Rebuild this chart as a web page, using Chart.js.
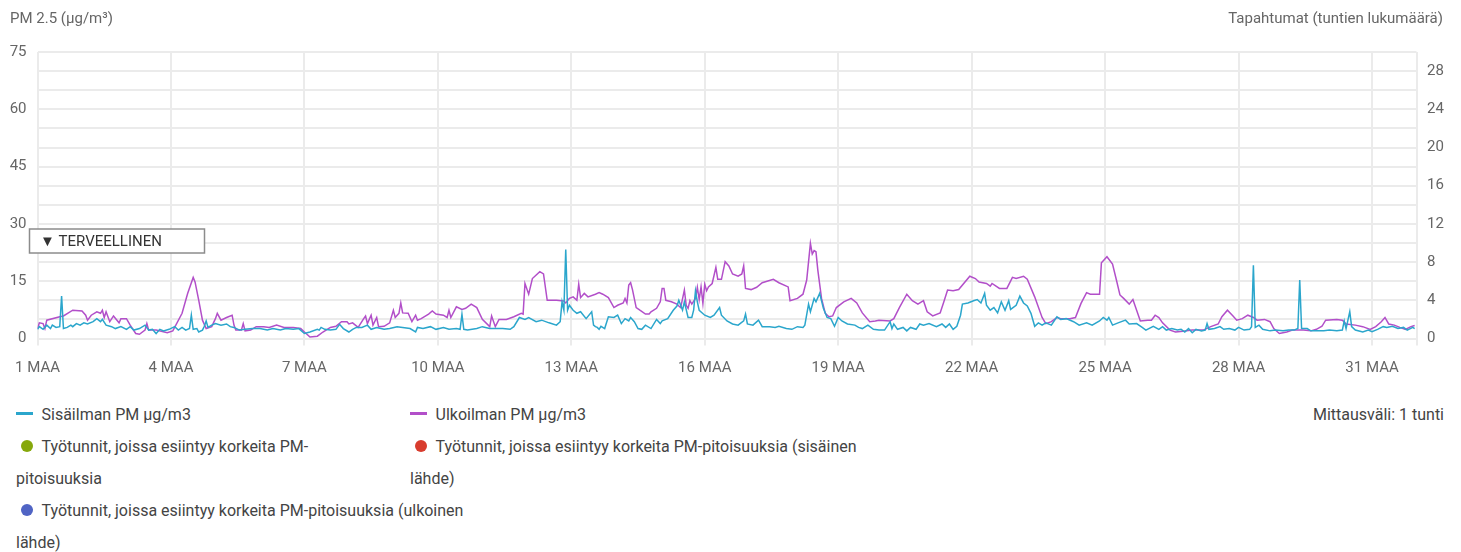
<!DOCTYPE html>
<html lang="fi">
<head>
<meta charset="utf-8">
<title>PM 2.5 – maaliskuu</title>
<script src="https://cdn.jsdelivr.net/npm/chart.js@4.4.0/dist/chart.umd.min.js"></script>
<style>
  html,body{margin:0;padding:0;background:#fff;}
  body{width:1461px;height:552px;position:relative;overflow:hidden;font-family:Roboto,"Noto Sans",sans-serif;}
  #chart{position:absolute;left:0;top:0;}
  .axis-title{position:absolute;top:8px;font-size:15px;line-height:20px;color:#666;}
  #title-left{left:10px;}
  #title-right{right:18px;}
  #legend{position:absolute;left:0;top:399px;width:1461px;font-size:16px;line-height:32px;color:#444;}
  .lg-item{position:absolute;}
  .i0{left:16px;top:0;}
  .i1{left:410px;top:0;}
  .i2{left:16px;top:32px;width:362px;}
  .i3{left:410px;top:32px;width:470px;}
  .i4{left:16px;top:96px;width:470px;}
  .mk{display:inline-block;width:17px;margin-right:8.5px;vertical-align:middle;position:relative;top:-2px;}
  .mk-line{height:3px;}
  .mk-dot{height:12.5px;}
  .mk-dot span{display:block;width:12.5px;height:12.5px;border-radius:50%;margin-left:4.5px;}
  #interval{position:absolute;right:17px;top:0;}
</style>
</head>
<body>
<canvas id="chart" width="1461" height="390"></canvas>
<div class="axis-title" id="title-left">PM 2.5 (µg/m³)</div>
<div class="axis-title" id="title-right">Tapahtumat (tuntien lukumäärä)</div>
<div id="legend"></div>

<script>
// hourly readings, [hour from 1 Mar 00:00, µg/m3]
const indoorPM = [
  [0,2.4],[1,3.1],[3,2.4],[5,3.5],[7,2.6],[8,3.5],[10,2.9],[12,3.1],[13,11.1],[14,2.6],[16,2.9],[18,3.5],
  [19,3.1],[21,3.9],[23,3.5],[25,4.1],[27,3.8],[30,4.4],[32,5.2],[34,4.4],[35,5.0],[37,3.5],[40,3.1],[42,2.6],
  [45,3.1],[48,2.4],[50,3.1],[52,2.2],[55,2.6],[58,3.5],[60,2.2],[62,2.4],[64,1.3],[66,2.4],[68,2.0],[71,2.4],
  [74,3.1],[76,2.2],[78,2.9],[80,2.2],[82,2.6],[83,6.1],[84,2.4],[86,2.6],[87,1.7],[89,2.2],[90,3.2],[91,4.6],
  [92,2.9],[94,3.5],[96,3.9],[99,3.5],[102,3.8],[104,3.1],[106,2.9],[109,2.2],[112,2.4],[116,2.6],[120,2.6],[124,2.2],
  [127,2.6],[131,2.2],[134,2.6],[138,2.4],[141,2.6],[144,1.3],[147,1.7],[151,2.4],[152,2.2],[153,2.9],[155,2.4],[158,2.2],
  [161,2.4],[163,3.7],[165,2.6],[168,1.7],[170,2.4],[172,2.9],[175,2.9],[178,3.5],[180,2.4],[183,2.9],[187,2.4],[190,2.6],
  [194,3.1],[197,2.9],[201,2.6],[204,1.7],[205,2.9],[208,2.6],[212,3.1],[215,2.4],[219,2.9],[222,2.4],[226,2.6],[228,2.4],
  [229,6.3],[230,2.4],[232,2.2],[237,2.6],[240,3.1],[244,2.6],[248,2.6],[251,2.6],[255,2.4],[257,3.1],[260,5.5],[263,5.0],
  [265,5.5],[269,4.4],[272,4.8],[276,4.1],[280,3.5],[282,4.4],[283,9.6],[284,7.4],[285,23.3],[286,7.4],[287,8.7],[289,7.4],
  [291,6.6],[293,7.0],[296,5.2],[299,7.0],[300,3.5],[301,3.1],[302,2.9],[303,2.4],[304,3.2],[306,2.6],[308,5.7],[311,5.5],
  [313,6.1],[315,3.9],[317,5.2],[319,4.6],[320,5.5],[322,4.4],[324,2.6],[326,2.4],[328,3.5],[331,2.6],[334,5.0],[336,3.9],
  [337,4.6],[340,5.2],[343,7.4],[345,8.5],[346,10.0],[348,7.4],[349,9.6],[351,5.5],[353,5.5],[354,7.4],[355,12.5],[356,9.6],
  [357,7.4],[360,6.1],[363,5.5],[365,6.1],[368,8.1],[369,6.1],[372,4.6],[375,3.8],[378,3.5],[381,4.6],[382,6.4],[383,3.8],
  [386,3.5],[389,4.8],[391,3.1],[395,3.1],[398,2.9],[400,3.2],[404,2.6],[407,2.4],[410,3.1],[413,2.9],[414,3.5],[416,9.0],
  [417,7.0],[419,10.5],[420,9.6],[422,11.8],[424,7.9],[426,5.5],[428,5.2],[430,3.2],[432,5.5],[434,4.6],[437,3.8],[441,3.5],
  [443,2.9],[445,2.6],[448,3.5],[451,2.4],[454,2.2],[457,2.2],[460,4.4],[461,2.6],[462,3.8],[464,2.4],[467,2.9],[469,2.0],
  [471,2.9],[474,2.4],[476,3.8],[478,3.5],[481,3.9],[485,3.1],[488,3.8],[490,2.9],[492,3.8],[494,2.4],[496,3.2],[498,6.1],
  [499,9.0],[502,9.3],[505,9.9],[507,10.2],[509,9.3],[511,11.8],[512,8.7],[514,7.4],[516,8.1],[518,6.7],[520,9.6],[522,7.4],
  [524,9.9],[525,7.6],[528,8.7],[530,11.1],[532,9.3],[534,8.5],[536,6.6],[538,3.2],[540,4.1],[542,3.5],[544,4.1],[547,3.5],
  [550,5.7],[552,5.0],[555,5.2],[559,4.4],[562,3.5],[566,4.1],[569,3.5],[573,4.6],[575,5.5],[577,4.8],[578,5.5],[580,3.5],
  [583,4.1],[587,4.8],[589,3.8],[593,3.9],[596,2.9],[598,2.2],[602,3.2],[605,2.4],[607,3.1],[609,2.2],[612,2.6],[615,2.2],
  [617,2.4],[619,1.7],[621,2.6],[623,1.5],[625,2.4],[628,2.0],[630,2.2],[631,3.9],[632,2.4],[635,2.6],[638,3.1],[640,2.4],
  [643,2.6],[646,2.2],[648,2.9],[651,2.2],[654,2.4],[655,3.1],[656,19.2],[657,2.9],[659,3.5],[661,2.4],[665,2.0],[668,2.2],
  [672,2.0],[675,2.2],[678,2.2],[680,2.6],[681,15.3],[682,2.6],[685,2.6],[687,2.0],[690,2.0],[694,2.0],[697,2.2],[701,2.0],
  [704,2.2],[705,4.6],[706,2.6],[707,4.8],[708,7.0],[709,3.1],[711,2.2],[715,1.7],[718,2.2],[720,1.8],[723,2.4],[726,3.1],
  [728,2.9],[731,3.2],[734,2.6],[737,2.9],[739,2.2],[742,2.9],[743,2.6]
];
const outdoorPM = [
  [0,2.6],[1,4.1],[3,3.9],[4,2.6],[5,4.8],[12,5.7],[14,5.9],[19,7.4],[24,7.2],[26,6.1],[27,4.8],[29,6.1],
  [32,7.0],[34,6.6],[35,7.4],[36,5.5],[37,7.0],[39,4.4],[41,5.9],[44,4.1],[45,5.2],[48,5.2],[50,3.5],[53,1.3],
  [55,1.1],[58,2.2],[59,3.9],[60,2.2],[64,2.2],[70,1.5],[73,2.0],[78,6.6],[81,11.8],[84,16.0],[85,14.8],[87,10.0],
  [89,4.8],[91,2.6],[94,3.1],[96,5.2],[97,6.6],[99,4.8],[102,5.5],[105,6.1],[106,3.5],[107,2.2],[110,2.2],[111,3.9],
  [112,2.0],[115,2.2],[118,3.1],[122,3.1],[125,2.9],[129,3.5],[133,2.9],[138,2.9],[142,2.6],[144,1.7],[147,0.4],[151,0.6],
  [154,1.7],[158,2.9],[161,3.2],[164,4.4],[167,4.4],[168,3.8],[170,4.1],[173,2.9],[176,5.2],[177,5.9],[178,3.9],[179,5.0],
  [180,6.1],[181,3.5],[183,5.5],[184,3.1],[187,3.2],[190,4.1],[192,7.4],[193,5.5],[195,6.6],[196,9.3],[197,6.7],[200,6.6],
  [202,4.4],[204,6.1],[205,4.8],[207,5.2],[211,6.4],[213,7.2],[215,6.4],[219,6.1],[221,5.5],[222,7.4],[223,5.5],[226,8.3],
  [229,7.6],[231,7.9],[234,9.0],[237,8.1],[240,5.0],[244,3.1],[245,5.9],[247,3.1],[249,5.0],[253,5.0],[257,5.7],[261,6.6],
  [262,6.4],[263,14.4],[265,11.6],[267,15.7],[271,17.5],[273,16.9],[275,10.0],[280,10.0],[284,9.8],[285,9.3],[287,10.5],[289,10.9],
  [291,10.0],[292,14.2],[293,10.7],[295,11.8],[297,10.9],[301,11.6],[303,12.0],[305,11.6],[308,10.7],[311,8.1],[313,8.7],[316,9.3],
  [317,10.5],[318,9.3],[319,14.0],[320,14.6],[321,12.8],[323,8.1],[325,7.4],[328,6.4],[330,6.4],[331,7.0],[334,7.9],[336,9.6],
  [337,13.1],[338,13.1],[339,10.0],[342,9.6],[345,9.0],[346,8.5],[347,8.1],[349,12.7],[350,8.7],[351,7.9],[352,9.9],[353,9.0],
  [355,10.5],[356,13.4],[357,10.2],[358,13.5],[359,9.2],[360,14.2],[361,12.5],[362,13.5],[364,14.4],[366,18.6],[367,15.5],[369,15.5],
  [371,20.1],[373,19.0],[375,16.9],[378,16.3],[380,16.9],[381,19.0],[382,13.1],[385,12.8],[388,13.4],[391,14.6],[397,15.5],[400,14.6],
  [405,13.5],[406,9.9],[410,10.5],[413,11.6],[415,15.3],[417,24.9],[418,22.1],[419,23.0],[420,22.7],[421,17.9],[423,10.5],[425,6.6],
  [427,5.7],[429,5.9],[431,8.1],[435,9.6],[439,10.5],[442,9.3],[445,6.7],[449,4.4],[452,4.6],[454,4.8],[460,4.6],[462,5.2],
  [465,8.1],[469,11.6],[472,9.9],[475,9.0],[478,9.9],[480,7.0],[483,5.9],[487,6.7],[489,9.6],[491,12.7],[494,12.5],[497,12.8],
  [503,16.3],[506,15.7],[508,14.8],[512,14.4],[514,13.7],[515,14.4],[519,13.1],[523,13.1],[526,16.0],[528,15.7],[532,16.3],[534,15.5],
  [538,10.9],[542,5.5],[544,3.9],[547,4.4],[550,5.5],[552,5.2],[557,5.2],[560,5.5],[563,9.2],[566,12.0],[568,11.6],[573,11.6],
  [574,19.8],[577,21.4],[580,19.5],[582,15.5],[584,11.4],[586,10.5],[589,9.0],[591,10.2],[593,7.4],[595,4.6],[599,4.8],[601,4.8],
  [603,6.1],[605,5.5],[607,4.1],[611,2.2],[614,1.7],[618,1.9],[623,2.2],[629,2.2],[633,3.1],[637,3.8],[639,5.7],[642,7.4],
  [645,5.9],[647,4.8],[650,5.2],[653,6.1],[656,5.5],[658,4.8],[662,5.0],[665,4.4],[667,2.6],[670,1.3],[674,1.7],[677,2.2],
  [683,2.2],[687,2.0],[690,2.4],[693,3.2],[695,4.8],[701,5.0],[704,4.8],[706,3.8],[711,3.5],[715,3.1],[719,2.4],[722,3.1],
  [725,4.4],[727,5.5],[729,3.8],[732,3.5],[735,2.9],[738,2.4],[741,3.1],[743,3.4]
];
// work hours with high PM (counts) – none in this period
const highHoursAll = [];
const highHoursIndoor = [];
const highHoursOutdoor = [];

const seriesLabels = [
  'Sisäilman PM µg/m3',
  'Ulkoilman PM µg/m3',
  'Työtunnit, joissa esiintyy korkeita PM-pitoisuuksia',
  'Työtunnit, joissa esiintyy korkeita PM-pitoisuuksia (sisäinen lähde)',
  'Työtunnit, joissa esiintyy korkeita PM-pitoisuuksia (ulkoinen lähde)'
];
const dayTicks = ['1 MAA','4 MAA','7 MAA','10 MAA','13 MAA','16 MAA','19 MAA','22 MAA','25 MAA','28 MAA','31 MAA'];
const pmTicks = [0,15,30,45,60,75];
const eventTicks = [0,4,8,12,16,20,24,28];
const healthyLimit = 25;
const healthyLabel = '▼ TERVEELLINEN';
const intervalText = 'Mittausväli: 1 tunti';

(function(){
  const GRID = '#ebebeb';
  const TICK = '#666';
  const colors = ['#2ba6cc','#b24fc9','#86a80c','#d83c2e','#5064c4'];
  const toXY = arr => arr.map(([x,y]) => ({x, y}));
  const HOURS = 744;          // 1 Mar 00:00 .. 1 Apr 00:00
  const DAY_STEP = 72;        // a label every 3 days
  const PM_GRID = 5;          // a grid line every 5 µg/m3

  // "TERVEELLINEN" flag on the left axis
  const healthyBox = {
    id: 'healthyBox',
    afterDraw(chart){
      const {ctx, chartArea, scales} = chart;
      const cy = scales.y.getPixelForValue(healthyLimit) - 2;
      const x = chartArea.left - 8, w = 175, h = 24;
      ctx.save();
      ctx.fillStyle = '#fff';
      ctx.strokeStyle = '#8c8c8c';
      ctx.lineWidth = 1.5;
      ctx.fillRect(x, cy - h/2, w, h);
      ctx.strokeRect(x, cy - h/2, w, h);
      ctx.fillStyle = '#333';
      ctx.font = '15px Roboto';
      ctx.textBaseline = 'middle';
      ctx.fillText(healthyLabel, x + 10.5, cy + 1);
      ctx.restore();
    }
  };

  const chart = new Chart(document.getElementById('chart'), {
    type: 'line',
    data: {
      datasets: [
        { label: seriesLabels[0], data: toXY(indoorPM), yAxisID: 'y', borderColor: colors[0], borderWidth: 1.5, pointRadius: 0, tension: 0 },
        { label: seriesLabels[1], data: toXY(outdoorPM), yAxisID: 'y', borderColor: colors[1], borderWidth: 1.5, pointRadius: 0, tension: 0 },
        { type: 'bar', label: seriesLabels[2], data: highHoursAll, yAxisID: 'y2', backgroundColor: colors[2] },
        { type: 'bar', label: seriesLabels[3], data: highHoursIndoor, yAxisID: 'y2', backgroundColor: colors[3] },
        { type: 'bar', label: seriesLabels[4], data: highHoursOutdoor, yAxisID: 'y2', backgroundColor: colors[4] }
      ]
    },
    options: {
      responsive: false,
      animation: false,
      devicePixelRatio: 1,
      layout: { padding: { top: 52, left: 0, right: 0, bottom: 0 } },
      plugins: { legend: { display: false }, tooltip: { enabled: false } },
      scales: {
        x: {
          type: 'linear', min: 0, max: HOURS, offset: false,
          afterBuildTicks: s => {
            s.ticks = dayTicks.map((_, i) => ({ value: i * DAY_STEP })).concat([{ value: HOURS }]);
          },
          afterFit: s => { s.height = 51.5; },
          grid: { color: GRID, lineWidth: 2, drawTicks: true, tickLength: 7, offset: false },
          border: { display: false },
          ticks: {
            autoSkip: false, maxRotation: 0, padding: 14,
            color: TICK, font: { family: 'Roboto', size: 15 },
            callback: v => v % DAY_STEP === 0 ? dayTicks[v / DAY_STEP] : ''
          }
        },
        y: {
          position: 'left', min: 0, max: 75,
          afterBuildTicks: s => {
            const t = [];
            for (let v = 0; v <= 75; v += PM_GRID) t.push({ value: v });
            s.ticks = t;
          },
          afterFit: s => { s.width = 37.5; },
          grid: { color: GRID, lineWidth: 2, drawTicks: false },
          border: { display: false },
          ticks: {
            autoSkip: false, padding: 11, color: TICK, font: { family: 'Roboto', size: 15 },
            callback: v => pmTicks.includes(v) ? v : ''
          }
        },
        y2: {
          position: 'right', min: 0, max: 30,
          afterBuildTicks: s => { s.ticks = eventTicks.map(v => ({ value: v })); },
          afterFit: s => { s.width = 44.5; },
          grid: { display: false, drawTicks: false },
          border: { display: false },
          ticks: {
            autoSkip: false, padding: 10.5, color: TICK, font: { family: 'Roboto', size: 15 }
          }
        }
      }
    },
    plugins: [healthyBox]
  });

  // html legend, built from the datasets
  const legend = document.getElementById('legend');
  chart.data.datasets.forEach((ds, i) => {
    const item = document.createElement('div');
    item.className = 'lg-item i' + i;
    const mk = document.createElement('span');
    if (ds.type === 'bar') {
      mk.className = 'mk mk-dot';
      const dot = document.createElement('span');
      dot.style.background = ds.backgroundColor;
      mk.appendChild(dot);
    } else {
      mk.className = 'mk mk-line';
      mk.style.background = ds.borderColor;
    }
    item.appendChild(mk);
    item.appendChild(document.createTextNode(ds.label));
    legend.appendChild(item);
  });
  const iv = document.createElement('div');
  iv.id = 'interval';
  iv.textContent = intervalText;
  legend.appendChild(iv);
})();
</script>
</body>
</html>
